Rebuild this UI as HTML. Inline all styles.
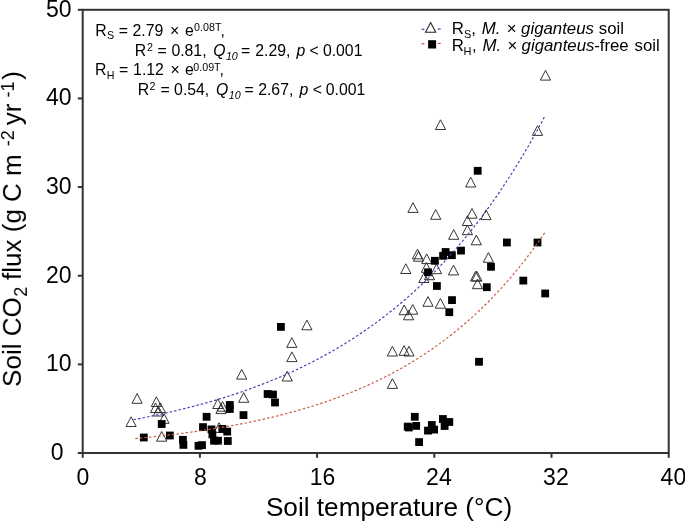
<!DOCTYPE html>
<html><head><meta charset="utf-8"><style>
html,body{margin:0;padding:0;background:#fff;width:685px;height:522px;overflow:hidden}
svg{display:block}
text{font-family:"Liberation Sans",sans-serif;fill:#000}
.gt{filter:grayscale(1)}
</style></head><body>
<svg width="685" height="522" viewBox="0 0 685 522">
<rect width="685" height="522" fill="#fff"/>
<g fill="none" stroke="#2a2a2a" stroke-width="0.95">
<path d="M137.1,393.6L142.2,403.3L132.0,403.3Z"/><path d="M131.1,416.8L136.2,426.5L126.0,426.5Z"/><path d="M156.4,396.8L161.5,406.5L151.3,406.5Z"/><path d="M155.5,402.9L160.6,412.6L150.4,412.6Z"/><path d="M160.3,402.9L165.4,412.6L155.2,412.6Z"/><path d="M158.4,406.3L163.5,416.0L153.3,416.0Z"/><path d="M164.0,413.6L169.1,423.3L158.9,423.3Z"/><path d="M161.7,431.5L166.8,441.2L156.6,441.2Z"/><path d="M217.8,398.8L222.9,408.5L212.7,408.5Z"/><path d="M222.5,401.5L227.6,411.2L217.4,411.2Z"/><path d="M221.0,403.9L226.1,413.6L215.9,413.6Z"/><path d="M243.7,392.6L248.8,402.3L238.6,402.3Z"/><path d="M241.7,369.4L246.8,379.1L236.6,379.1Z"/><path d="M287.2,371.3L292.3,381.0L282.1,381.0Z"/><path d="M291.9,351.9L297.0,361.6L286.8,361.6Z"/><path d="M291.8,337.7L296.9,347.4L286.7,347.4Z"/><path d="M306.9,320.1L312.0,329.8L301.8,329.8Z"/><path d="M392.4,346.3L397.5,356.0L387.3,356.0Z"/><path d="M404.1,345.6L409.2,355.3L399.0,355.3Z"/><path d="M409.0,346.3L414.1,356.0L403.9,356.0Z"/><path d="M392.4,378.7L397.5,388.4L387.3,388.4Z"/><path d="M404.2,305.0L409.3,314.7L399.1,314.7Z"/><path d="M412.7,304.5L417.8,314.2L407.6,314.2Z"/><path d="M408.6,310.1L413.7,319.8L403.5,319.8Z"/><path d="M428.0,296.6L433.1,306.3L422.9,306.3Z"/><path d="M440.4,298.5L445.5,308.2L435.3,308.2Z"/><path d="M423.9,272.8L429.0,282.5L418.8,282.5Z"/><path d="M417.5,249.1L422.6,258.8L412.4,258.8Z"/><path d="M418.5,251.5L423.6,261.2L413.4,261.2Z"/><path d="M426.7,253.9L431.8,263.6L421.6,263.6Z"/><path d="M405.8,263.8L410.9,273.5L400.7,273.5Z"/><path d="M426.4,262.6L431.5,272.3L421.3,272.3Z"/><path d="M436.5,264.0L441.6,273.7L431.4,273.7Z"/><path d="M429.5,270.0L434.6,279.7L424.4,279.7Z"/><path d="M453.5,265.2L458.6,274.9L448.4,274.9Z"/><path d="M475.6,271.3L480.7,281.0L470.5,281.0Z"/><path d="M476.9,271.3L482.0,281.0L471.8,281.0Z"/><path d="M477.5,279.0L482.6,288.7L472.4,288.7Z"/><path d="M488.4,252.6L493.5,262.3L483.3,262.3Z"/><path d="M453.7,229.6L458.8,239.3L448.6,239.3Z"/><path d="M476.3,235.1L481.4,244.8L471.2,244.8Z"/><path d="M467.4,225.0L472.5,234.7L462.3,234.7Z"/><path d="M467.4,215.8L472.5,225.5L462.3,225.5Z"/><path d="M472.0,208.5L477.1,218.2L466.9,218.2Z"/><path d="M486.0,209.9L491.1,219.6L480.9,219.6Z"/><path d="M413.0,202.7L418.1,212.4L407.9,212.4Z"/><path d="M435.7,209.6L440.8,219.3L430.6,219.3Z"/><path d="M470.7,177.3L475.8,187.0L465.6,187.0Z"/><path d="M440.5,119.8L445.6,129.5L435.4,129.5Z"/><path d="M537.5,125.7L542.6,135.4L532.4,135.4Z"/><path d="M545.5,70.4L550.6,80.1L540.4,80.1Z"/><path d="M219.1,422.7L224.2,432.4L214.0,432.4Z"/>
</g>
<g fill="#000">
<rect x="139.90" y="433.60" width="7.8" height="7.8"/><rect x="157.80" y="420.10" width="7.8" height="7.8"/><rect x="166.00" y="431.60" width="7.8" height="7.8"/><rect x="179.00" y="435.90" width="7.8" height="7.8"/><rect x="179.50" y="441.00" width="7.8" height="7.8"/><rect x="194.60" y="441.90" width="7.8" height="7.8"/><rect x="198.10" y="441.20" width="7.8" height="7.8"/><rect x="202.70" y="412.90" width="7.8" height="7.8"/><rect x="199.10" y="423.20" width="7.8" height="7.8"/><rect x="225.90" y="401.10" width="7.8" height="7.8"/><rect x="225.90" y="405.10" width="7.8" height="7.8"/><rect x="239.60" y="411.20" width="7.8" height="7.8"/><rect x="207.60" y="425.50" width="7.8" height="7.8"/><rect x="208.50" y="430.50" width="7.8" height="7.8"/><rect x="210.10" y="436.80" width="7.8" height="7.8"/><rect x="214.10" y="436.80" width="7.8" height="7.8"/><rect x="218.40" y="425.00" width="7.8" height="7.8"/><rect x="223.30" y="427.70" width="7.8" height="7.8"/><rect x="223.90" y="437.10" width="7.8" height="7.8"/><rect x="263.70" y="390.10" width="7.8" height="7.8"/><rect x="269.10" y="390.60" width="7.8" height="7.8"/><rect x="271.10" y="398.60" width="7.8" height="7.8"/><rect x="277.00" y="323.00" width="7.8" height="7.8"/><rect x="410.90" y="412.90" width="7.8" height="7.8"/><rect x="403.80" y="422.70" width="7.8" height="7.8"/><rect x="404.90" y="423.60" width="7.8" height="7.8"/><rect x="412.30" y="422.00" width="7.8" height="7.8"/><rect x="415.20" y="438.20" width="7.8" height="7.8"/><rect x="424.10" y="426.70" width="7.8" height="7.8"/><rect x="427.90" y="421.10" width="7.8" height="7.8"/><rect x="430.20" y="425.70" width="7.8" height="7.8"/><rect x="439.00" y="415.10" width="7.8" height="7.8"/><rect x="445.40" y="418.10" width="7.8" height="7.8"/><rect x="440.70" y="422.10" width="7.8" height="7.8"/><rect x="475.10" y="357.90" width="7.8" height="7.8"/><rect x="433.00" y="282.10" width="7.8" height="7.8"/><rect x="448.10" y="296.20" width="7.8" height="7.8"/><rect x="445.40" y="308.30" width="7.8" height="7.8"/><rect x="424.10" y="268.40" width="7.8" height="7.8"/><rect x="431.00" y="256.90" width="7.8" height="7.8"/><rect x="441.70" y="248.10" width="7.8" height="7.8"/><rect x="439.20" y="251.90" width="7.8" height="7.8"/><rect x="448.00" y="251.30" width="7.8" height="7.8"/><rect x="457.10" y="246.70" width="7.8" height="7.8"/><rect x="487.10" y="262.90" width="7.8" height="7.8"/><rect x="482.90" y="283.30" width="7.8" height="7.8"/><rect x="519.40" y="276.70" width="7.8" height="7.8"/><rect x="541.30" y="289.60" width="7.8" height="7.8"/><rect x="503.00" y="238.60" width="7.8" height="7.8"/><rect x="533.60" y="238.60" width="7.8" height="7.8"/><rect x="473.80" y="166.90" width="7.8" height="7.8"/>
</g>
<path d="M133.50,419.69 L137.61,418.91 L141.72,418.11 L145.84,417.29 L149.95,416.46 L154.06,415.60 L158.17,414.73 L162.28,413.83 L166.40,412.92 L170.51,411.98 L174.62,411.02 L178.73,410.04 L182.84,409.03 L186.96,408.00 L191.07,406.95 L195.18,405.87 L199.29,404.77 L203.40,403.64 L207.52,402.49 L211.63,401.31 L215.74,400.10 L219.85,398.86 L223.96,397.59 L228.08,396.29 L232.19,394.97 L236.30,393.61 L240.41,392.22 L244.52,390.80 L248.64,389.34 L252.75,387.85 L256.86,386.33 L260.97,384.77 L265.08,383.17 L269.20,381.54 L273.31,379.87 L277.42,378.16 L281.53,376.40 L285.64,374.61 L289.76,372.78 L293.87,370.90 L297.98,368.98 L302.09,367.01 L306.20,365.00 L310.32,362.94 L314.43,360.84 L318.54,358.68 L322.65,356.47 L326.76,354.21 L330.88,351.90 L334.99,349.54 L339.10,347.12 L343.21,344.64 L347.32,342.10 L351.44,339.51 L355.55,336.85 L359.66,334.14 L363.77,331.35 L367.88,328.51 L372.00,325.60 L376.11,322.61 L380.22,319.56 L384.33,316.44 L388.44,313.25 L392.56,309.98 L396.67,306.63 L400.78,303.21 L404.89,299.70 L409.00,296.11 L413.12,292.44 L417.23,288.69 L421.34,284.84 L425.45,280.91 L429.56,276.88 L433.68,272.76 L437.79,268.54 L441.90,264.23 L446.01,259.81 L450.12,255.29 L454.24,250.66 L458.35,245.93 L462.46,241.08 L466.57,236.13 L470.68,231.05 L474.80,225.86 L478.91,220.54 L483.02,215.10 L487.13,209.54 L491.24,203.84 L495.36,198.01 L499.47,192.05 L503.58,185.94 L507.69,179.69 L511.80,173.30 L515.92,166.75 L520.03,160.05 L524.14,153.20 L528.25,146.19 L532.36,139.01 L536.48,131.66 L540.59,124.14 L544.70,116.45" fill="none" stroke="#3c3cb4" stroke-width="1.15" stroke-dasharray="2.5 2.1"/>
<path d="M135.30,438.60 L139.39,438.21 L143.49,437.80 L147.58,437.38 L151.68,436.94 L155.77,436.50 L159.86,436.04 L163.96,435.58 L168.05,435.09 L172.15,434.60 L176.24,434.09 L180.33,433.57 L184.43,433.03 L188.52,432.48 L192.62,431.91 L196.71,431.33 L200.80,430.73 L204.90,430.11 L208.99,429.48 L213.09,428.83 L217.18,428.16 L221.27,427.47 L225.37,426.77 L229.46,426.04 L233.56,425.30 L237.65,424.53 L241.74,423.75 L245.84,422.94 L249.93,422.11 L254.03,421.25 L258.12,420.37 L262.21,419.47 L266.31,418.54 L270.40,417.59 L274.50,416.61 L278.59,415.61 L282.68,414.57 L286.78,413.51 L290.87,412.42 L294.97,411.30 L299.06,410.14 L303.15,408.96 L307.25,407.74 L311.34,406.49 L315.44,405.21 L319.53,403.88 L323.62,402.53 L327.72,401.13 L331.81,399.70 L335.91,398.22 L340.00,396.71 L344.09,395.15 L348.19,393.55 L352.28,391.91 L356.38,390.22 L360.47,388.49 L364.56,386.70 L368.66,384.87 L372.75,382.99 L376.85,381.05 L380.94,379.06 L385.03,377.02 L389.13,374.92 L393.22,372.76 L397.32,370.54 L401.41,368.26 L405.50,365.92 L409.60,363.51 L413.69,361.04 L417.79,358.49 L421.88,355.88 L425.97,353.19 L430.07,350.44 L434.16,347.60 L438.26,344.69 L442.35,341.69 L446.44,338.61 L450.54,335.45 L454.63,332.20 L458.73,328.86 L462.82,325.43 L466.91,321.90 L471.01,318.28 L475.10,314.56 L479.20,310.73 L483.29,306.80 L487.38,302.75 L491.48,298.60 L495.57,294.33 L499.67,289.94 L503.76,285.44 L507.85,280.80 L511.95,276.04 L516.04,271.15 L520.14,266.12 L524.23,260.96 L528.32,255.65 L532.42,250.19 L536.51,244.59 L540.61,238.82 L544.70,232.90" fill="none" stroke="#c85a3c" stroke-width="1.15" stroke-dasharray="2.5 2.1"/>
<g stroke="#333" stroke-width="2" fill="none">
<rect x="82.7" y="9.8" width="586.0" height="443.2"/>
<line x1="77.8" y1="453.00" x2="82.7" y2="453.00"/><line x1="82.70" y1="453.0" x2="82.70" y2="457.8"/><line x1="77.8" y1="364.36" x2="82.7" y2="364.36"/><line x1="199.90" y1="453.0" x2="199.90" y2="457.8"/><line x1="77.8" y1="275.72" x2="82.7" y2="275.72"/><line x1="317.10" y1="453.0" x2="317.10" y2="457.8"/><line x1="77.8" y1="187.08" x2="82.7" y2="187.08"/><line x1="434.30" y1="453.0" x2="434.30" y2="457.8"/><line x1="77.8" y1="98.44" x2="82.7" y2="98.44"/><line x1="551.50" y1="453.0" x2="551.50" y2="457.8"/><line x1="77.8" y1="9.80" x2="82.7" y2="9.80"/><line x1="668.70" y1="453.0" x2="668.70" y2="457.8"/>
</g>
<line x1="421.6" y1="29.3" x2="424.4" y2="29.3" stroke="#3c3cb4" stroke-width="1.2"/>
<line x1="437.8" y1="29.0" x2="440.7" y2="29.0" stroke="#3c3cb4" stroke-width="1.2"/>
<g fill="none" stroke="#262626" stroke-width="1.1"><path d="M430.6,22.6L435.7,32.3L425.5,32.3Z"/></g>
<line x1="421.6" y1="43.7" x2="424.4" y2="43.7" stroke="#c85a3c" stroke-width="1.2"/>
<line x1="437.8" y1="43.4" x2="440.7" y2="43.4" stroke="#c85a3c" stroke-width="1.2"/>
<rect x="428.1" y="40.2" width="8.0" height="8.3"/>
<g class="gt"><text x="63.5" y="459.9" font-size="23" text-anchor="end">0</text><text x="71.6" y="371.3" font-size="23" text-anchor="end">10</text><text x="71.6" y="282.6" font-size="23" text-anchor="end">20</text><text x="71.6" y="194.0" font-size="23" text-anchor="end">30</text><text x="71.6" y="105.3" font-size="23" text-anchor="end">40</text><text x="71.6" y="16.7" font-size="23" text-anchor="end">50</text><text x="83.0" y="484.8" font-size="23" text-anchor="middle">0</text><text x="200.3" y="484.8" font-size="23" text-anchor="middle">8</text><text x="309.8" y="484.8" font-size="23">16</text><text x="426.1" y="484.8" font-size="23">24</text><text x="543.1" y="484.8" font-size="23">32</text><text x="660.6" y="484.8" font-size="23">40</text><text x="265.9" y="515.8" font-size="26.2">Soil temperature (°C)</text><g transform="translate(20.9,0) rotate(-90)"><text x="-386.9" y="0" font-size="26" xml:space="preserve">Soil CO</text><text x="-296.8" y="6.4" font-size="18" xml:space="preserve">2</text><text x="-287.2" y="0" font-size="26" xml:space="preserve"> flux (g C m</text><text x="-146.3" y="-7.5" font-size="18" xml:space="preserve">-2</text><text x="-132.6" y="0" font-size="26" xml:space="preserve"> yr</text><text x="-97.4" y="-7.5" font-size="18" xml:space="preserve">-1</text><text x="-79.8" y="0" font-size="26" xml:space="preserve">)</text></g><text x="95.2" y="35.5" font-size="15.8">R</text><text x="106.9" y="39.2" font-size="10.7">S</text><text x="118.8" y="35.5" font-size="15.8">=</text><text x="132.5" y="35.5" font-size="15.8">2.79</text><text x="169.9" y="35.5" font-size="15.8">×</text><text x="185.0" y="35.5" font-size="15.8">e</text><text x="194.1" y="30.9" font-size="10.7">0.08T</text><text x="220.6" y="35.5" font-size="15.8">,</text><text x="134.8" y="55.7" font-size="15.8">R</text><text x="147.0" y="51.1" font-size="10.7">2</text><text x="157.4" y="55.7" font-size="15.8">=</text><text x="171.4" y="55.7" font-size="15.8">0.81,</text><text x="213.3" y="55.7" font-size="15.8" font-style="italic">Q</text><text x="225.9" y="59.6" font-size="10.7" font-style="italic">10</text><text x="241.1" y="55.7" font-size="15.8">=</text><text x="255.3" y="55.7" font-size="15.8">2.29,</text><text x="296.4" y="55.7" font-size="15.8" font-style="italic">p</text><text x="309.4" y="55.7" font-size="15.8">&lt;</text><text x="322.9" y="55.7" font-size="15.8">0.001</text><text x="95.1" y="75.3" font-size="15.8">R</text><text x="106.8" y="79.0" font-size="10.7">H</text><text x="119.0" y="75.3" font-size="15.8">=</text><text x="133.1" y="75.3" font-size="15.8">1.12</text><text x="170.5" y="75.3" font-size="15.8">×</text><text x="185.0" y="75.3" font-size="15.8">e</text><text x="193.3" y="70.7" font-size="10.7">0.09T</text><text x="219.5" y="75.3" font-size="15.8">,</text><text x="137.8" y="94.6" font-size="15.8">R</text><text x="149.6" y="90.0" font-size="10.7">2</text><text x="160.4" y="94.6" font-size="15.8">=</text><text x="174.1" y="94.6" font-size="15.8">0.54,</text><text x="215.9" y="94.6" font-size="15.8" font-style="italic">Q</text><text x="228.7" y="98.5" font-size="10.7" font-style="italic">10</text><text x="244.5" y="94.6" font-size="15.8">=</text><text x="258.2" y="94.6" font-size="15.8">2.67,</text><text x="299.6" y="94.6" font-size="15.8" font-style="italic">p</text><text x="312.8" y="94.6" font-size="15.8">&lt;</text><text x="325.8" y="94.6" font-size="15.8">0.001</text><text x="451.7" y="33.7" font-size="16.8">R</text><text x="471.3" y="33.7" font-size="16.8">,</text><text x="481.8" y="33.7" font-size="16.8" font-style="italic">M.</text><text x="506.7" y="33.7" font-size="16.8">×</text><text x="521.1" y="33.7" font-size="16.8" font-style="italic">giganteus</text><text x="598.8" y="33.7" font-size="16.8">soil</text><text x="464.0" y="37.8" font-size="11">S</text><text x="451.7" y="50.9" font-size="16.8">R</text><text x="472.0" y="50.9" font-size="16.8">,</text><text x="482.5" y="50.9" font-size="16.8" font-style="italic">M.</text><text x="507.4" y="50.9" font-size="16.8">×</text><text x="521.6" y="50.9" font-size="16.8" font-style="italic">giganteus</text><text x="594.2" y="50.9" font-size="16.8">-free</text><text x="634.5" y="50.9" font-size="16.8">soil</text><text x="463.5" y="55.0" font-size="11">H</text></g>
</svg>
</body></html>
